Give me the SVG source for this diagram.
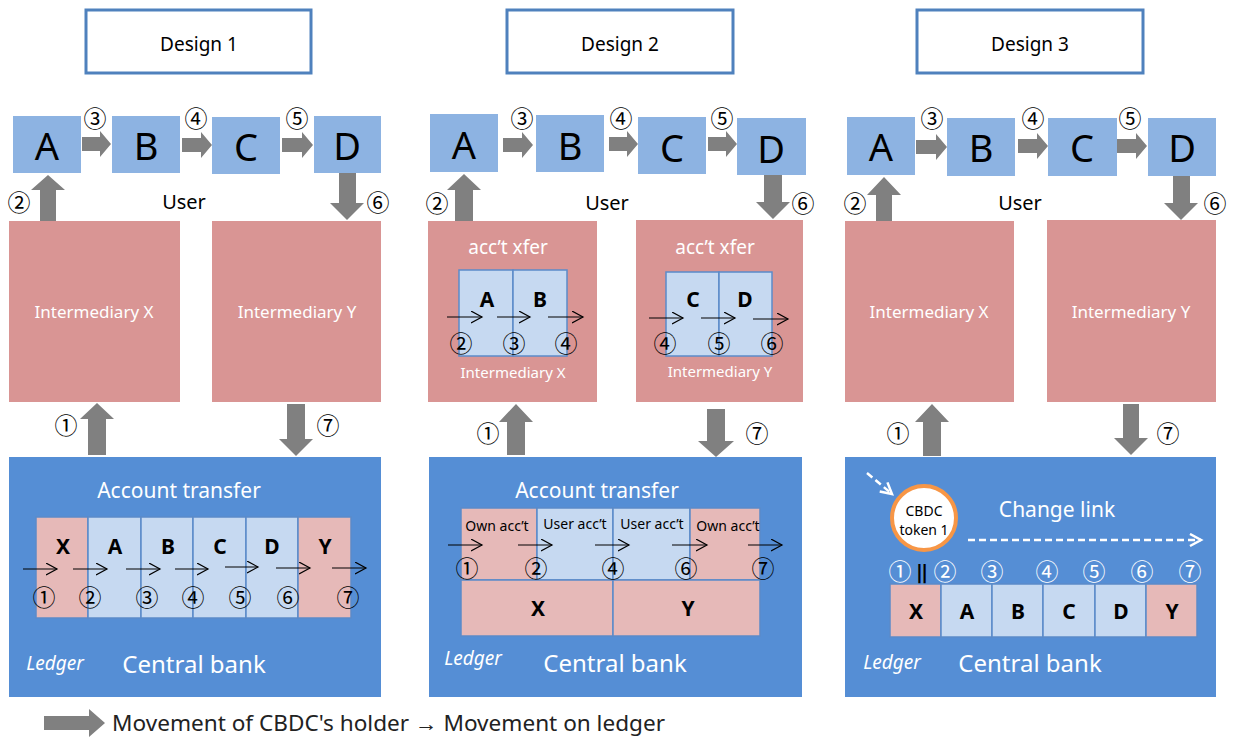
<svg xmlns="http://www.w3.org/2000/svg" width="1233" height="738" viewBox="0 0 1233 738">
<defs>
<style>
text{font-family:"Noto Sans","Open Sans","Liberation Sans",sans-serif;}
.t{text-anchor:middle;dominant-baseline:central;}
.title{font-size:19px;fill:#000;}
.big{font-size:38px;fill:#000;}
.user{font-size:20px;fill:#000;}
.num{font-family:"Noto Sans CJK JP","Noto Sans CJK SC",sans-serif;font-size:23px;fill:#000;}
.numw{font-family:"Noto Sans CJK JP","Noto Sans CJK SC",sans-serif;font-size:23px;fill:#fff;}
.inter{font-size:17px;fill:#fff;}
.inter2{font-size:15px;fill:#fff;}
.xfer{font-size:19px;fill:#fff;}
.acct{font-size:21px;fill:#fff;}
.cb{font-size:24px;fill:#fff;}
.ledger{font-size:19px;fill:#fff;font-style:italic;}
.cell{font-size:21px;font-weight:bold;fill:#000;}
.own{font-size:14px;fill:#000;}
.tbox{fill:#fff;stroke:#4f81bd;stroke-width:3;}
.ubox{fill:#8db3e2;}
.ibox{fill:#d99594;}
.cbox{fill:#558ed5;}
.pk{fill:#e6b9b8;stroke:#5b8bc9;stroke-width:1.5;}
.bl{fill:#c6d9f1;stroke:#5b8bc9;stroke-width:1.5;}
.ga{fill:#808080;}
.thin{stroke:#000;stroke-width:1.2;fill:none;marker-end:url(#mk);}
.dash{stroke:#fff;stroke-width:2.5;fill:none;stroke-dasharray:7 4;marker-end:url(#mkw);}
</style>
<marker id="mk" markerUnits="userSpaceOnUse" markerWidth="14" markerHeight="14" refX="11" refY="6" orient="auto"><path d="M0,0 L11,6 L0,12" fill="none" stroke="#000" stroke-width="1.2"/></marker>
<marker id="mkw" markerUnits="userSpaceOnUse" markerWidth="16" markerHeight="16" refX="12" refY="7" orient="auto"><path d="M1,1 L12,7 L1,13" fill="none" stroke="#fff" stroke-width="2.5"/></marker>
</defs>
<rect width="1233" height="738" fill="#fff"/>

<!-- ================= Design 1 ================= -->
<g id="design1">
<g id="d1-title"><rect class="tbox" x="86" y="10" width="225" height="63"/><text class="t title" x="199" y="44">Design 1</text></g>
<g id="d1-A"><rect class="ubox" x="13" y="116" width="68" height="57"/><text class="t big" x="47" y="145">A</text></g>
<g id="d1-B"><rect class="ubox" x="112" y="116" width="68" height="57"/><text class="t big" x="146" y="145">B</text></g>
<g id="d1-C"><rect class="ubox" x="212" y="117" width="68" height="57"/><text class="t big" x="246" y="146">C</text></g>
<g id="d1-D"><rect class="ubox" x="314" y="116" width="67" height="57"/><text class="t big" x="347" y="145">D</text></g>
<text class="t user" x="184" y="201">User</text>
<g id="d1-interX"><rect class="ibox" x="9" y="221" width="171" height="181"/><text class="t inter" x="94" y="311">Intermediary X</text></g>
<g id="d1-interY"><rect class="ibox" x="212" y="221" width="169" height="181"/><text class="t inter" x="297" y="311">Intermediary Y</text></g>
<g id="d1-cb">
<rect class="cbox" x="9" y="457" width="372" height="240"/>
<text class="t acct" x="179" y="490">Account transfer</text>
<rect class="pk" x="36" y="517" width="52" height="101"/>
<rect class="bl" x="88" y="517" width="53" height="101"/>
<rect class="bl" x="141" y="517" width="52" height="101"/>
<rect class="bl" x="193" y="517" width="53" height="101"/>
<rect class="bl" x="246" y="517" width="52" height="101"/>
<rect class="pk" x="298" y="517" width="53" height="101"/>
<text class="t cell" x="63" y="546">X</text>
<text class="t cell" x="115" y="546">A</text>
<text class="t cell" x="168" y="546">B</text>
<text class="t cell" x="220" y="546">C</text>
<text class="t cell" x="272" y="546">D</text>
<text class="t cell" x="325" y="546">Y</text>
<line class="thin" x1="23" y1="569" x2="57" y2="569"/>
<line class="thin" x1="73" y1="569" x2="107" y2="569"/>
<line class="thin" x1="126" y1="569" x2="160" y2="569"/>
<line class="thin" x1="175" y1="569" x2="208" y2="569"/>
<line class="thin" x1="225" y1="567" x2="258" y2="567"/>
<line class="thin" x1="276" y1="568" x2="310" y2="568"/>
<line class="thin" x1="332" y1="568" x2="366" y2="568"/>
<text class="t num" x="44" y="596">①</text>
<text class="t num" x="90" y="596">②</text>
<text class="t num" x="147" y="596">③</text>
<text class="t num" x="193" y="596">④</text>
<text class="t num" x="240" y="596">⑤</text>
<text class="t num" x="288" y="596">⑥</text>
<text class="t num" x="348" y="596">⑦</text>
<text class="t ledger" x="55" y="663">Ledger</text>
<text class="t cb" x="194" y="663">Central bank</text>
</g>
<g id="d1-labels">
<text class="t num" x="95" y="117">③</text>
<text class="t num" x="196" y="117">④</text>
<text class="t num" x="297" y="117">⑤</text>
<text class="t num" x="19" y="201">②</text>
<text class="t num" x="378" y="201">⑥</text>
<text class="t num" x="66" y="424">①</text>
<text class="t num" x="328" y="424">⑦</text>
</g>
</g>

<!-- ================= Design 2 ================= -->
<g id="design2">
<g id="d2-title"><rect class="tbox" x="507" y="10" width="226" height="63"/><text class="t title" x="620" y="44">Design 2</text></g>
<g id="d2-A"><rect class="ubox" x="430" y="114" width="68" height="58"/><text class="t big" x="464" y="144">A</text></g>
<g id="d2-B"><rect class="ubox" x="536" y="115" width="68" height="57"/><text class="t big" x="570" y="145">B</text></g>
<g id="d2-C"><rect class="ubox" x="638" y="117" width="68" height="57"/><text class="t big" x="672" y="147">C</text></g>
<g id="d2-D"><rect class="ubox" x="737" y="118" width="69" height="57"/><text class="t big" x="771" y="148">D</text></g>
<text class="t user" x="607" y="202">User</text>
<g id="d2-interX">
<rect class="ibox" x="428" y="221" width="169" height="181"/>
<text class="t xfer" x="508" y="247">acc’t xfer</text>
<rect class="bl" x="459" y="270" width="54" height="86"/>
<rect class="bl" x="513" y="270" width="54" height="86"/>
<text class="t cell" x="487" y="299">A</text>
<text class="t cell" x="540" y="299">B</text>
<line class="thin" x1="447" y1="317" x2="482" y2="317"/>
<line class="thin" x1="497" y1="317" x2="530" y2="317"/>
<line class="thin" x1="548" y1="317" x2="583" y2="317"/>
<text class="t num" x="461" y="342">②</text>
<text class="t num" x="514" y="342">③</text>
<text class="t num" x="566" y="342">④</text>
<text class="t inter2" x="513" y="372">Intermediary X</text>
</g>
<g id="d2-interY">
<rect class="ibox" x="636" y="220" width="167" height="182"/>
<text class="t xfer" x="715" y="247">acc’t xfer</text>
<rect class="bl" x="666" y="272" width="53" height="84"/>
<rect class="bl" x="719" y="272" width="53" height="84"/>
<text class="t cell" x="693" y="299">C</text>
<text class="t cell" x="745" y="299">D</text>
<line class="thin" x1="649" y1="318" x2="683" y2="318"/>
<line class="thin" x1="701" y1="318" x2="735" y2="318"/>
<line class="thin" x1="753" y1="319" x2="788" y2="319"/>
<text class="t num" x="665" y="342">④</text>
<text class="t num" x="719" y="342">⑤</text>
<text class="t num" x="772" y="342">⑥</text>
<text class="t inter2" x="720" y="371">Intermediary Y</text>
</g>
<g id="d2-cb">
<rect class="cbox" x="429" y="457" width="373" height="240"/>
<text class="t acct" x="597" y="490">Account transfer</text>
<rect class="pk" x="461" y="508" width="76" height="72"/>
<rect class="bl" x="537" y="508" width="76" height="72"/>
<rect class="bl" x="613" y="508" width="77" height="72"/>
<rect class="pk" x="690" y="508" width="70" height="72"/>
<rect class="pk" x="461" y="580" width="152" height="56"/>
<rect class="pk" x="613" y="580" width="147" height="56"/>
<text class="t own" x="497" y="525">Own acc’t</text>
<text class="t own" x="575" y="523">User acc’t</text>
<text class="t own" x="652" y="523">User acc’t</text>
<text class="t own" x="728" y="525">Own acc’t</text>
<line class="thin" x1="448" y1="545" x2="482" y2="545"/>
<line class="thin" x1="518" y1="545" x2="552" y2="545"/>
<line class="thin" x1="595" y1="545" x2="629" y2="545"/>
<line class="thin" x1="672" y1="545" x2="707" y2="545"/>
<line class="thin" x1="748" y1="545" x2="782" y2="545"/>
<text class="t num" x="467" y="567">①</text>
<text class="t num" x="536" y="567">②</text>
<text class="t num" x="613" y="567">④</text>
<text class="t num" x="686" y="567">⑥</text>
<text class="t num" x="763" y="567">⑦</text>
<text class="t cell" x="538" y="608">X</text>
<text class="t cell" x="688" y="608">Y</text>
<text class="t ledger" x="473" y="658">Ledger</text>
<text class="t cb" x="615" y="662">Central bank</text>
</g>
<g id="d2-labels">
<text class="t num" x="522" y="117">③</text>
<text class="t num" x="621" y="117">④</text>
<text class="t num" x="722" y="117">⑤</text>
<text class="t num" x="437" y="202">②</text>
<text class="t num" x="803" y="202">⑥</text>
<text class="t num" x="488" y="432">①</text>
<text class="t num" x="757" y="432">⑦</text>
</g>
</g>

<!-- ================= Design 3 ================= -->
<g id="design3">
<g id="d3-title"><rect class="tbox" x="917" y="10" width="226" height="63"/><text class="t title" x="1030" y="44">Design 3</text></g>
<g id="d3-A"><rect class="ubox" x="847" y="117" width="68" height="58"/><text class="t big" x="881" y="146">A</text></g>
<g id="d3-B"><rect class="ubox" x="947" y="118" width="68" height="58"/><text class="t big" x="981" y="147">B</text></g>
<g id="d3-C"><rect class="ubox" x="1048" y="118" width="69" height="58"/><text class="t big" x="1082" y="147">C</text></g>
<g id="d3-D"><rect class="ubox" x="1148" y="118" width="68" height="58"/><text class="t big" x="1182" y="147">D</text></g>
<text class="t user" x="1020" y="202">User</text>
<g id="d3-interX"><rect class="ibox" x="845" y="221" width="169" height="181"/><text class="t inter" x="929" y="311">Intermediary X</text></g>
<g id="d3-interY"><rect class="ibox" x="1047" y="220" width="169" height="182"/><text class="t inter" x="1131" y="311">Intermediary Y</text></g>
<g id="d3-cb">
<rect class="cbox" x="845" y="457" width="371" height="240"/>
<path class="dash" d="M867,473 L892,494"/>
<text class="t acct" x="1057" y="509">Change link</text>
<path class="dash" d="M968,540 L1201,540"/>
<g id="d3-token">
<circle cx="924" cy="518" r="32" fill="#fff" stroke="#f79646" stroke-width="4"/>
<text class="t" x="924" y="516" font-size="14" fill="#000" style="dominant-baseline:auto">CBDC</text>
<text class="t" x="924" y="535" font-size="14" fill="#000" style="dominant-baseline:auto">token 1</text>
</g>
<text class="t numw" x="900" y="570">①</text>
<text class="t" x="922" y="571" font-family="DejaVu Sans" font-size="20" font-weight="bold" fill="#000">‖</text>
<text class="t numw" x="945" y="570">②</text>
<text class="t numw" x="992" y="570">③</text>
<text class="t numw" x="1047" y="570">④</text>
<text class="t numw" x="1094" y="570">⑤</text>
<text class="t numw" x="1142" y="570">⑥</text>
<text class="t numw" x="1190" y="570">⑦</text>
<rect class="pk" x="890" y="584" width="51" height="53"/>
<rect class="bl" x="941" y="584" width="51" height="53"/>
<rect class="bl" x="992" y="584" width="51" height="53"/>
<rect class="bl" x="1043" y="584" width="52" height="53"/>
<rect class="bl" x="1095" y="584" width="51" height="53"/>
<rect class="pk" x="1146" y="584" width="51" height="53"/>
<text class="t cell" x="916" y="611" font-size="19">X</text>
<text class="t cell" x="967" y="611" font-size="19">A</text>
<text class="t cell" x="1018" y="611" font-size="19">B</text>
<text class="t cell" x="1069" y="611" font-size="19">C</text>
<text class="t cell" x="1121" y="611" font-size="19">D</text>
<text class="t cell" x="1172" y="611" font-size="19">Y</text>
<text class="t ledger" x="892" y="662">Ledger</text>
<text class="t cb" x="1030" y="662">Central bank</text>
</g>
<g id="d3-labels">
<text class="t num" x="932" y="117">③</text>
<text class="t num" x="1033" y="117">④</text>
<text class="t num" x="1130" y="117">⑤</text>
<text class="t num" x="855" y="202">②</text>
<text class="t num" x="1215" y="202">⑥</text>
<text class="t num" x="898" y="432">①</text>
<text class="t num" x="1168" y="432">⑦</text>
</g>
</g>

<!-- ================= Connectors (gray block arrows) ================= -->
<g id="connectors" class="ga">
<!-- design 1 -->
<polygon points="82,137 100,137 100,131 111,144 100,157 100,151 82,151"/>
<polygon points="182,138 201,138 201,132 212,145 201,158 201,152 182,152"/>
<polygon points="282,138 302,138 302,132 313,145 302,158 302,152 282,152"/>
<polygon points="40,221 40,190 31,190 48,175 65,190 56,190 56,221"/>
<polygon points="339,173 356,173 356,203 364,203 347,220 330,203 339,203"/>
<polygon points="88,455 88,419 80,419 97,403 114,419 106,419 106,455"/>
<polygon points="287,404 305,404 305,439 313,439 296,456 279,439 287,439"/>
<!-- design 2 -->
<polygon points="503,138 522,138 522,132 533,145 522,158 522,152 503,152"/>
<polygon points="609,137 627,137 627,131 638,144 627,157 627,151 609,151"/>
<polygon points="708,137 726,137 726,131 737,144 726,157 726,151 708,151"/>
<polygon points="455,221 455,190 447,190 464,174 481,190 473,190 473,221"/>
<polygon points="764,175 782,175 782,202 790,202 773,219 756,202 764,202"/>
<polygon points="507,455 507,422 499,422 516,404 533,422 525,422 525,455"/>
<polygon points="707,409 725,409 725,441 734,441 716,457 698,441 707,441"/>
<!-- design 3 -->
<polygon points="916,140 936,140 936,134 947,147 936,160 936,154 916,154"/>
<polygon points="1018,139 1037,139 1037,133 1048,146 1037,159 1037,153 1018,153"/>
<polygon points="1117,139 1136,139 1136,133 1147,146 1136,159 1136,153 1117,153"/>
<polygon points="876,221 876,195 867,195 884,177 901,195 892,195 892,221"/>
<polygon points="1173,176 1190,176 1190,203 1198,203 1181,220 1164,203 1173,203"/>
<polygon points="923,456 923,422 915,422 932,404 949,422 941,422 941,456"/>
<polygon points="1123,404 1139,404 1139,438 1148,438 1131,455 1114,438 1123,438"/>
</g>

<!-- ================= Legend ================= -->
<g id="legend">
<polygon class="ga" points="44,716 89,716 89,709 105,723 89,737 89,730 44,730"/>
<text x="112" y="723" font-size="21" fill="#222" style="dominant-baseline:central" textLength="553" lengthAdjust="spacingAndGlyphs">Movement of CBDC's holder → Movement on ledger</text>
</g>
</svg>
